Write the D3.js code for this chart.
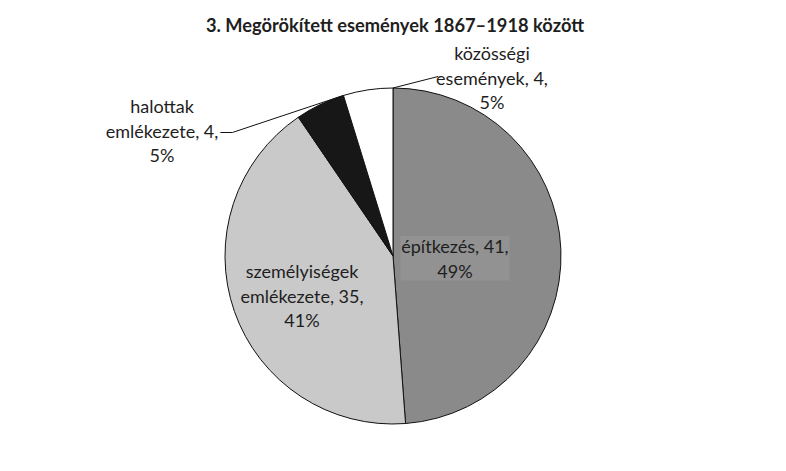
<!DOCTYPE html>
<html>
<head>
<meta charset="utf-8">
<script src="https://cdn.jsdelivr.net/npm/d3@7"></script>
<style>
  body { margin: 0; background: #fff; }
  text { font-family: Lato, "Open Sans", sans-serif; fill: #1e1e1e; }
</style>
</head>
<body>
<div id="chart"></div>
<script>
const title = "3. Megörökített események 1867–1918 között";
const categories = ["építkezés", "személyiségek emlékezete", "halottak emlékezete", "közösségi események"];
const values = [41, 35, 4, 4];
const percents = ["49%", "41%", "5%", "5%"];
const labelLines = [
  ["építkezés, 41,", "49%"],
  ["személyiségek", "emlékezete, 35,", "41%"],
  ["halottak", "emlékezete, 4,", "5%"],
  ["közösségi", "események, 4,", "5%"]
];
const colors = ["#8a8a8a", "#c9c9c9", "#171717", "#ffffff"];

const width = 786, height = 471;
const cx = 393, cy = 256, radius = 168;
const lineH = 24.5;

// label placement relative to pie centre (centre x of the text block, first baseline)
const labelLayout = [
  { dx: 62, dy: -3, box: true },
  { dx: -91, dy: 22 },
  { dx: -231, dy: -143, leader: { tail: 12, line: 1 } },
  { dx: 99, dy: -196, leader: { tail: 0, line: 1, side: "left" } }
];

const svg = d3.select("#chart").append("svg")
  .attr("width", width)
  .attr("height", height);

svg.append("rect").attr("width", width).attr("height", height).attr("fill", "#fff");

svg.append("text")
  .attr("x", cx + 2)
  .attr("y", 32)
  .attr("text-anchor", "middle")
  .style("font-weight", "bold")
  .style("font-size", "18.3px")
  .text(title);

const pie = d3.pie().sort(null).value(d => d.value);
const arcs = pie(categories.map((c, i) => ({ name: c, value: values[i], i })));
const arc = d3.arc().innerRadius(0).outerRadius(radius);

const g = svg.append("g").attr("transform", `translate(${cx},${cy})`);

g.selectAll("path.slice")
  .data(arcs)
  .join("path")
  .attr("class", "slice")
  .attr("d", arc)
  .attr("fill", d => colors[d.data.i])
  .attr("stroke", "#111")
  .attr("stroke-width", 1);

// labels
arcs.forEach((a, i) => {
  const lay = labelLayout[i];
  const lines = labelLines[i];
  const lg = g.append("g");
  const t = lg.append("text")
    .attr("text-anchor", "middle")
    .style("font-size", "18px");
  lines.forEach((l, k) => {
    t.append("tspan")
      .attr("x", lay.dx)
      .attr("y", lay.dy + k * lineH)
      .text(l);
  });
  const bb = t.node().getBBox();
  if (lay.box) {
    lg.insert("rect", "text")
      .attr("x", bb.x - 1).attr("y", bb.y + 1)
      .attr("width", bb.width + 2).attr("height", bb.height - 2)
      .attr("fill", "#929292");
  }
  if (lay.leader) {
    const ang = a.endAngle;
    const px = radius * Math.sin(ang), py = -radius * Math.cos(ang);
    const ly = lay.dy + lay.leader.line * lineH - 5;
    let pts;
    if (lay.leader.side === "left") {
      const lx = bb.x + 2;
      pts = [[px, py], [lx, ly - 3]];
    } else {
      const lx = bb.x + bb.width + 2;
      pts = [[lx, ly], [lx + lay.leader.tail, ly], [px, py]];
    }
    g.append("path")
      .attr("d", d3.line()(pts))
      .attr("fill", "none")
      .attr("stroke", "#111")
      .attr("stroke-width", 1);
  }
});
</script>
</body>
</html>
